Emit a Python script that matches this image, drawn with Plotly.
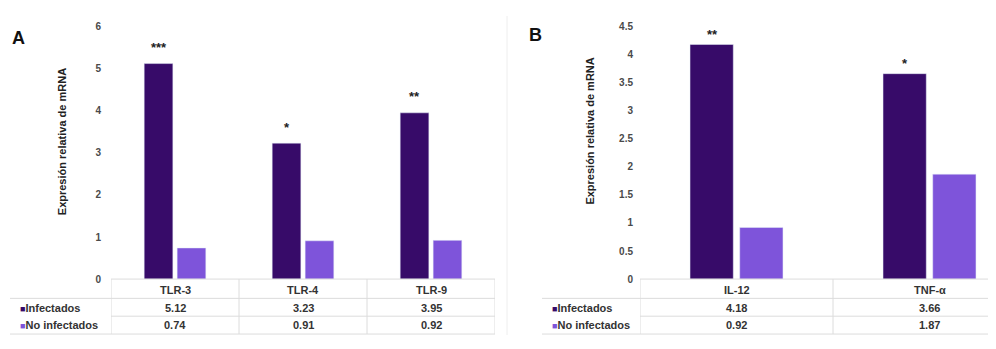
import plotly.graph_objects as go

# ---------------- data ----------------
cats_a = ["TLR-3", "TLR-4", "TLR-9"]
infect_a = [5.12, 3.23, 3.95]
noinf_a = [0.74, 0.91, 0.92]
stars_a = ["***", "*", "**"]

cats_b = ["IL-12", "TNF-α"]
infect_b = [4.18, 3.66]
noinf_b = [0.92, 1.87]
stars_b = ["**", "*"]

series_names = ["Infectados", "No infectados"]
ytitle = "Expresión relativa de mRNA"
ticks_a = [0, 1, 2, 3, 4, 5, 6]
ticks_b = [0, 0.5, 1, 1.5, 2, 2.5, 3, 3.5, 4, 4.5]
tick_text_b = ["0", "0.5", "1", "1.5", "2", "2.5", "3", "3.5", "4", "4.5"]

# ---------------- style ----------------
OFF = 8                     # page body margin of the viewer
W, H = 996 - 2 * OFF, 349 - 2 * OFF
DARK = "#370B69"
LIGHT = "#7E54DA"
TXT = "#333333"
GRID = "#dcdcdc"
FONT = "Liberation Sans"


def px(x):
    return (x - OFF) / W


def py(y):
    return 1 - (y - OFF) / H


Y_BOT, Y_TOP = 283, 21
ROW_CAT, ROW_INF, ROW_NO = 294, 313, 331
LINES_Y = [303, 321.5, 340]

fig = go.Figure()

fig.add_trace(go.Bar(x=cats_a, y=infect_a, name=series_names[0], marker_color=DARK,
                     xaxis="x", yaxis="y", showlegend=False))
fig.add_trace(go.Bar(x=cats_a, y=noinf_a, name=series_names[1], marker_color=LIGHT,
                     xaxis="x", yaxis="y", showlegend=False))
fig.add_trace(go.Bar(x=cats_b, y=infect_b, name=series_names[0], marker_color=DARK,
                     xaxis="x2", yaxis="y2", showlegend=False))
fig.add_trace(go.Bar(x=cats_b, y=noinf_b, name=series_names[1], marker_color=LIGHT,
                     xaxis="x2", yaxis="y2", showlegend=False))

# panel geometry (pixels in the final picture)
A_L, A_R = 111, 495
B_L, B_R = 640, 988
b_unit = 193
b_range_right = -0.5 + (B_R - B_L) / b_unit

axis_common = dict(showgrid=False, zeroline=False, showline=False, ticks="",
                   fixedrange=True)
fig.update_layout(
    width=W, height=H, margin=dict(l=0, r=0, t=0, b=0),
    paper_bgcolor="white", plot_bgcolor="white",
    barmode="group", bargap=0.485, bargroupgap=0.13,
    font=dict(family=FONT, color=TXT),
    xaxis=dict(domain=[px(A_L), px(A_R)], range=[-0.5, len(cats_a) - 0.5],
               showticklabels=False, anchor="y", **axis_common),
    yaxis=dict(domain=[py(Y_BOT), py(Y_TOP)], range=[0, 6], tickvals=ticks_a,
               tickfont=dict(size=10, family=FONT, color="#4a4a4a", weight="bold"),
               ticklabelstandoff=9, anchor="x", **axis_common),
    xaxis2=dict(domain=[px(B_L), min(1, px(B_R))], range=[-0.5, b_range_right],
                showticklabels=False, anchor="y2", **axis_common),
    yaxis2=dict(domain=[py(Y_BOT), py(Y_TOP)], range=[0, 4.5], tickvals=ticks_b,
                ticktext=tick_text_b,
                tickfont=dict(size=10, family=FONT, color="#4a4a4a", weight="bold"),
                ticklabelstandoff=6, anchor="x2", **axis_common),
)

annotations = []
shapes = []


def cell(x, y, text, xref="paper", xanchor="center", size=11, color=TXT):
    annotations.append(dict(x=x, y=y, xref=xref, yref="paper", text=text, showarrow=False,
                            xanchor=xanchor, yanchor="middle", font=dict(size=size, color=color)))


def table(xref, cats, inf, noinf, left_px, right_px, label_px, ncat_visible):
    for i, c in enumerate(cats):
        cell(c, py(ROW_CAT), f"<b>{c}</b>", xref=xref)
        cell(c, py(ROW_INF), f"<b>{inf[i]:.2f}</b>", xref=xref)
        cell(c, py(ROW_NO), f"<b>{noinf[i]:.2f}</b>", xref=xref)
    for row_y, name, col in [(ROW_INF, series_names[0], DARK), (ROW_NO, series_names[1], LIGHT)]:
        cell(px(label_px), py(row_y),
             f"<span style='color:{col};font-size:9px'>■</span><b>{name}</b>", xanchor="left")
    shapes.append(dict(type="line", xref="paper", yref="paper", x0=px(left_px), x1=min(1, px(right_px)),
                       y0=py(Y_BOT), y1=py(Y_BOT), line=dict(color=GRID, width=1)))
    for i, ly in enumerate(LINES_Y):
        x0 = label_px - 8 if i != 1 else left_px
        shapes.append(dict(type="line", xref="paper", yref="paper", x0=px(x0), x1=min(1, px(right_px)),
                           y0=py(ly), y1=py(ly), line=dict(color=GRID, width=1)))
    for k in range(ncat_visible + 1):
        shapes.append(dict(type="line", xref=xref, yref="paper", x0=k - 0.5, x1=k - 0.5,
                           y0=py(Y_BOT), y1=py(LINES_Y[-1]), line=dict(color=GRID, width=1)))


table("x", cats_a, infect_a, noinf_a, A_L, A_R, 18, len(cats_a))
table("x2", cats_b, infect_b, noinf_b, B_L, B_R, 550, len(cats_b) - 1)

# significance stars above infected bars
for xref, yref, cats, vals, stars, shift, ys in [("x", "y", cats_a, infect_a, stars_a, -16.5, 16),
                                                  ("x2", "y2", cats_b, infect_b, stars_b, -24.5, 10)]:
    for c, v, s in zip(cats, vals, stars):
        annotations.append(dict(x=c, y=v, xref=xref, yref=yref, text=f"<b>{s}</b>",
                                showarrow=False, xshift=shift, yshift=ys,
                                xanchor="center", yanchor="middle",
                                font=dict(size=13, color="#222222")))

# y axis titles
for xt, yt in [(62, 141), (590, 130)]:
    annotations.append(dict(x=px(xt), y=py(yt), xref="paper", yref="paper", text=f"<b>{ytitle}</b>",
                            textangle=-90, showarrow=False, xanchor="center", yanchor="middle",
                            font=dict(size=11, color="#222222")))

# panel letters
for xt, yt, t in [(18, 33, "A"), (535, 30, "B")]:
    annotations.append(dict(x=px(xt), y=py(yt), xref="paper", yref="paper", text=f"<b>{t}</b>",
                            showarrow=False, xanchor="center", yanchor="middle",
                            font=dict(size=18, color="#111111")))

# panel separator
shapes.append(dict(type="line", xref="paper", yref="paper", x0=px(507), x1=px(507),
                   y0=py(10), y1=0, line=dict(color="#eeeeee", width=1)))

fig.update_layout(annotations=annotations, shapes=shapes)
fig.write_html("out.html")
